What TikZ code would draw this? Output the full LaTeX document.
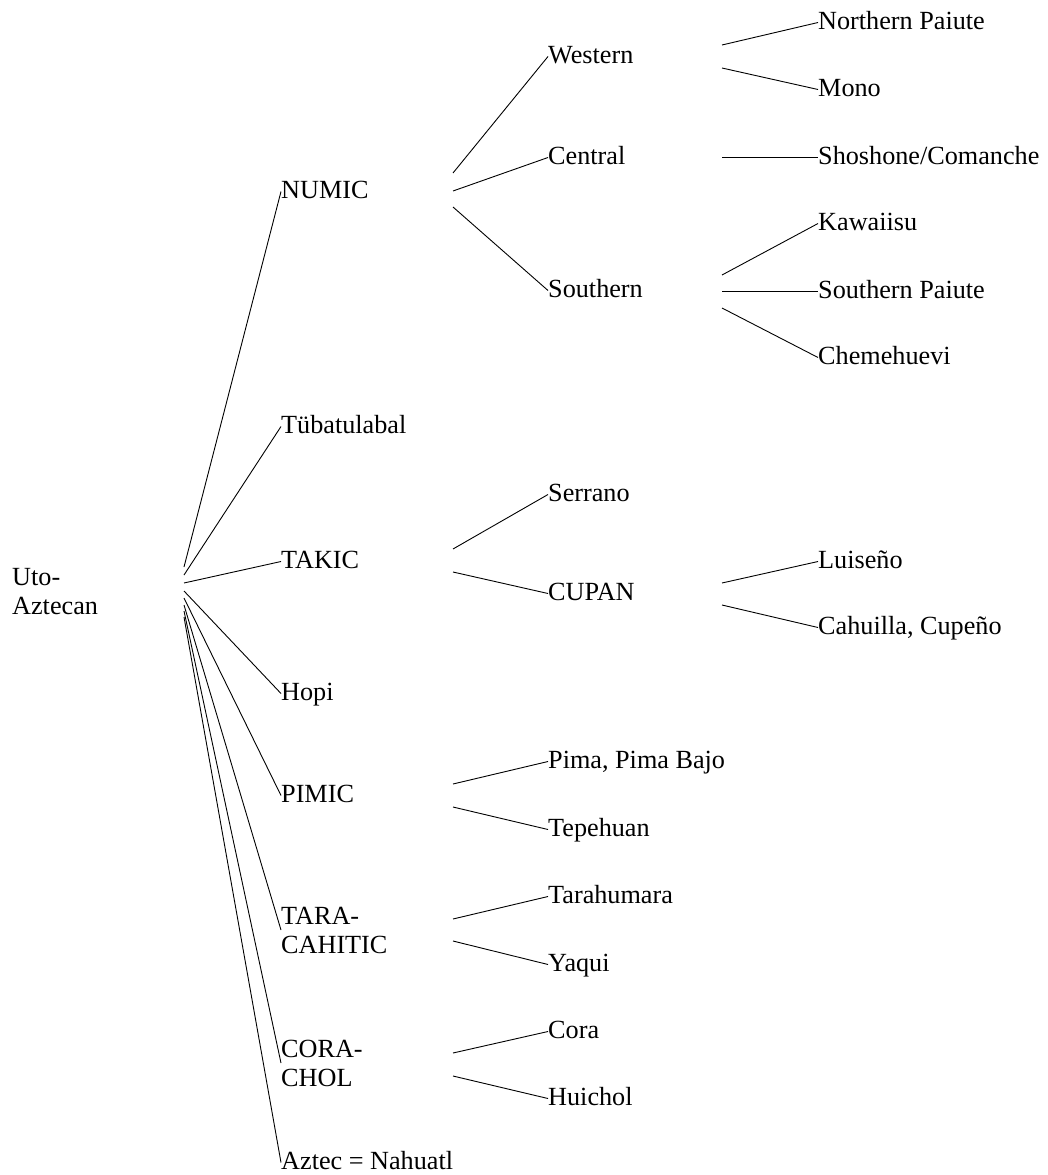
\documentclass[tikz,border=0pt]{standalone}
\usepackage{fontspec}
\setmainfont{Liberation Serif}
\begin{document}
\begin{tikzpicture}[x=1pt,y=-1pt,
  lbl/.style={anchor=base west, inner sep=0pt, font=\fontsize{26.2}{29}\selectfont},
  lbl2/.style={anchor=west, inner sep=0pt, align=left, font=\fontsize{26.2}{29}\selectfont},
  br/.style={line width=0.9pt, black}]
\fill[white] (0,0) rectangle (1047,1175);
\useasboundingbox (0,0) rectangle (1047,1175);

% root
\node[lbl2] (root) at (12,592) {Uto-\\Aztecan};

% level 1 (positions are baselines)
\node[lbl] (numic) at (281,198) {NUMIC};
\node[lbl] (tub) at (281,433) {Tübatulabal};
\node[lbl] (takic) at (281,568) {TAKIC};
\node[lbl] (hopi) at (281,700) {Hopi};
\node[lbl] (pimic) at (281,802) {PIMIC};
\node[lbl2] (tara) at (281,930) {TARA-\\CAHITIC};
\node[lbl2] (corachol) at (281,1063) {CORA-\\CHOL};
\node[lbl] (aztec) at (281,1169) {Aztec = Nahuatl};

% level 2
\node[lbl] (western) at (548,63) {Western};
\node[lbl] (central) at (548,164) {Central};
\node[lbl] (southern) at (548,297) {Southern};
\node[lbl] (serrano) at (548,501) {Serrano};
\node[lbl] (cupan) at (548,600) {CUPAN};
\node[lbl] (pima) at (548,768) {Pima, Pima Bajo};
\node[lbl] (tepehuan) at (548,836) {Tepehuan};
\node[lbl] (tarahumara) at (548,903) {Tarahumara};
\node[lbl] (yaqui) at (548,971) {Yaqui};
\node[lbl] (cora) at (548,1038) {Cora};
\node[lbl] (huichol) at (548,1105) {Huichol};

% level 3
\node[lbl] (npaiute) at (818,29) {Northern Paiute};
\node[lbl] (mono) at (818,96) {Mono};
\node[lbl] (shoshone) at (818,164) {Shoshone/Comanche};
\node[lbl] (kawaiisu) at (818,230) {Kawaiisu};
\node[lbl] (spaiute) at (818,298) {Southern Paiute};
\node[lbl] (chemehuevi) at (818,364) {Chemehuevi};
\node[lbl] (luiseno) at (818,568) {Luiseño};
\node[lbl] (cahuilla) at (818,634) {Cahuilla, Cupeño};

% branch start points
\coordinate (s-numic) at (184,567);
\coordinate (s-tub) at (184,575);
\coordinate (s-takic) at (184,583);
\coordinate (s-hopi) at (184,591);
\coordinate (s-pimic) at (184,598);
\coordinate (s-tara) at (184,605);
\coordinate (s-corachol) at (184,611);
\coordinate (s-aztec) at (184,617);

\coordinate (s-western) at (453,173);
\coordinate (s-central) at (453,191);
\coordinate (s-southern) at (453,207);
\coordinate (s-serrano) at (453,549);
\coordinate (s-cupan) at (453,572);
\coordinate (s-pima) at (453,784);
\coordinate (s-tepehuan) at (453,807);
\coordinate (s-tarahumara) at (453,919);
\coordinate (s-yaqui) at (453,941);
\coordinate (s-cora) at (453,1053);
\coordinate (s-huichol) at (453,1076);

\coordinate (s-npaiute) at (722,45);
\coordinate (s-mono) at (722,68);
\coordinate (s-shoshone) at (722,157.5);
\coordinate (s-kawaiisu) at (722,275);
\coordinate (s-spaiute) at (722,291.5);
\coordinate (s-chemehuevi) at (722,308);
\coordinate (s-luiseno) at (722,583);
\coordinate (s-cahuilla) at (722,605);

% connectors (end a little above each label's baseline)
\foreach \n in {numic,tub,takic,hopi,pimic,aztec,
                western,central,southern,serrano,cupan,pima,tepehuan,
                tarahumara,yaqui,cora,huichol,
                npaiute,mono,shoshone,kawaiisu,spaiute,chemehuevi,luiseno,cahuilla}
  \draw[br] (s-\n) -- ([yshift=6.5pt]\n.base west);
\draw[br] (s-tara) -- (tara.west);
\draw[br] (s-corachol) -- (corachol.west);
\end{tikzpicture}
\end{document}
